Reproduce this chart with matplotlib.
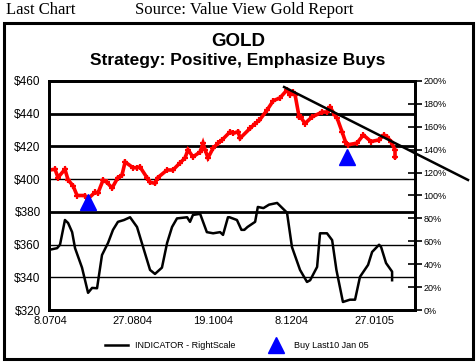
import matplotlib.pyplot as plt
from matplotlib.patches import Rectangle
from matplotlib.lines import Line2D

# gold price (left scale), x in trading days
gold_x = [0.0, 2.7, 4.0, 7.1, 8.5, 10.7, 12.5, 16.0, 17.4, 20.5, 21.8, 24.1,
          25.8, 28.1, 30.7, 32.5, 33.9, 37.4, 39.2, 40.5, 43.6, 45.0, 47.2,
          48.5, 52.6, 55.2, 58.4, 60.6, 61.9, 64.1, 67.3, 68.6, 69.5, 70.8,
          73.1, 75.3, 77.1, 80.7, 82.0, 84.2, 85.1, 89.5, 91.8, 93.7, 97.0,
          99.9, 102.8, 106.0, 107.3, 108.7, 109.6, 111.4, 112.1, 114.0, 117.1,
          121.6, 123.8, 125.2, 127.4, 128.3, 130.5, 132.0, 133.1, 137.1,
          140.0, 143.4, 147.0, 149.2, 150.5, 152.3, 154.1, 154.1]
gold_y = [405.6, 406.0, 401.0, 406.0, 399.5, 396.0, 390.0, 390.0, 388.0, 392.0,
          391.5, 399.5, 398.0, 394.6, 401.0, 402.5, 410.5, 407.0, 407.0, 407.5,
          401.0, 398.0, 397.5, 401.0, 405.6, 405.6, 410.0, 413.0, 418.0, 413.6,
          416.6, 422.0, 418.0, 413.0, 419.0, 422.0, 424.0, 429.0, 428.0, 429.0,
          425.0, 431.0, 434.0, 436.0, 442.0, 448.0, 449.6, 454.5, 451.5, 453.0,
          451.5, 438.0, 438.0, 434.0, 438.0, 441.0, 441.0, 444.0, 439.0, 437.4,
          429.0, 423.0, 421.0, 422.0, 427.0, 423.0, 424.0, 427.0, 426.0, 423.0,
          418.0, 413.5]

# indicator (right scale, %)
ind_x = [0.0, 3.6, 4.9, 7.1, 8.5, 10.3, 11.6, 14.7, 17.4, 19.2, 21.4, 23.6,
         26.3, 28.5, 30.7, 33.4, 36.1, 39.2, 41.9, 45.0, 47.2, 50.3, 52.6,
         54.8, 57.0, 61.5, 62.8, 64.1, 67.3, 70.3, 73.1, 76.2, 77.5, 79.7,
         80.4, 83.7, 85.7, 87.0, 88.4, 91.8, 93.0, 95.5, 98.0, 101.6, 106.0,
         108.2, 111.8, 114.9, 116.3, 119.4, 120.7, 123.8, 126.1, 128.0,
         130.9, 134.0, 136.3, 138.5, 142.1, 143.9, 147.0, 147.9, 150.1, 152.8,
         152.8]
ind_y = [52.5, 54.0, 57.0, 78.6, 76.0, 68.0, 54.0, 37.0, 15.0, 19.3, 19.0, 48.0,
         58.6, 70.0, 77.0, 78.6, 81.0, 72.5, 55.0, 35.0, 31.5, 37.0, 58.6, 72.5,
         80.0, 81.0, 77.0, 83.0, 84.0, 68.0, 67.0, 68.0, 65.6, 81.0, 81.0, 78.6,
         70.0, 70.0, 72.5, 77.0, 90.0, 89.0, 92.0, 93.5, 85.0, 55.0, 35.0, 24.5,
         26.0, 37.6, 67.0, 67.0, 61.0, 35.0, 7.0, 9.0, 9.0, 29.0, 39.4, 50.7,
         57.0, 55.0, 41.0, 33.5, 26.0]

buy_x = [17.4, 132.8]
buy_y = [386.0, 413.8]

trend_x = [104.7, 186.6]
trend_y = [456.3, 399.5]

date_ticks = [0.5, 37, 73, 108, 145]
date_labels = ['8.0704', '27.0804', '19.1004', '8.1204', '27.0105']
price_ticks = [320, 340, 360, 380, 400, 420, 440, 460]
pct_ticks = [0, 20, 40, 60, 80, 100, 120, 140, 160, 180, 200]

sans = 'Liberation Sans'
serif = 'Liberation Serif'

W, H = 477, 364
fig = plt.figure(figsize=(W / 100, H / 100), dpi=100)

# frame around chart
fig.patches.append(Rectangle((4 / W, 5 / H), 469 / W, 336 / H, transform=fig.transFigure,
                             fill=False, lw=2.2, ec='black'))
fig.text(6 / W, 1 - 10 / H, 'Last Chart', fontsize=12, family=serif, va='center')
fig.text(135 / W, 1 - 10 / H, 'Source: Value View Gold Report', fontsize=12,
         family=serif, va='center')
fig.text(238 / W, 1 - 42 / H, 'GOLD', fontsize=13.5, family=sans,
         weight='bold', ha='center', va='center')
fig.text(238 / W, 1 - 61 / H, 'Strategy: Positive, Emphasize Buys', fontsize=12.5,
         family=sans, weight='bold', ha='center', va='center')

ax = fig.add_axes([49 / W, (H - 310) / H, 366 / W, 229 / H])
ax.set_xlim(0, 163)
ax.set_ylim(320, 460)

grid_w = {340: 1.0, 360: 1.0, 380: 2.0, 400: 1.0, 420: 2.0, 440: 2.0}
for v, w in grid_w.items():
    ax.axhline(v, color='black', lw=w, zorder=1)

ax.plot(gold_x, gold_y, color='red', lw=2.6, marker='+', ms=5, mew=1.6,
        solid_joinstyle='miter', zorder=3)
ax.plot(buy_x, buy_y, linestyle='none', marker='^', ms=12, color='blue',
        mec='blue', zorder=4)
ax.plot(trend_x, trend_y, color='black', lw=1.8, clip_on=False, zorder=5)

ax2 = ax.twinx()
ax2.set_ylim(0, 200)
ax2.plot(ind_x, ind_y, color='black', lw=1.8, zorder=3)

for a in (ax, ax2):
    for s in a.spines.values():
        s.set_linewidth(2)
ax.set_xticks(date_ticks)
ax.set_xticklabels(date_labels, family=sans, fontsize=8)
ax.tick_params(axis='x', length=0, pad=4)
ax.set_yticks(price_ticks)
ax.set_yticklabels(['$%d' % v for v in price_ticks], family=sans, fontsize=8.5)
ax.tick_params(axis='y', length=0, pad=6)
ax2.set_yticks(pct_ticks)
ax2.set_yticklabels(['%d%%' % v for v in pct_ticks], family=sans, fontsize=6.5)
ax2.tick_params(axis='y', direction='inout', length=10, width=1.2, pad=1)

# legend
leg = [Line2D([], [], color='black', lw=1.8),
       Line2D([], [], linestyle='none', marker='^', ms=12, color='blue')]
fig.legend(leg, ['INDICATOR - RightScale', 'Buy Last10 Jan 05'], loc='center',
           bbox_to_anchor=(237 / W, 1 - 346 / H), ncol=2, frameon=False,
           prop={'family': sans, 'size': 6.5}, columnspacing=3.2,
           handlelength=2.5, handletextpad=0.8)

fig.savefig('out.png', dpi=100)
